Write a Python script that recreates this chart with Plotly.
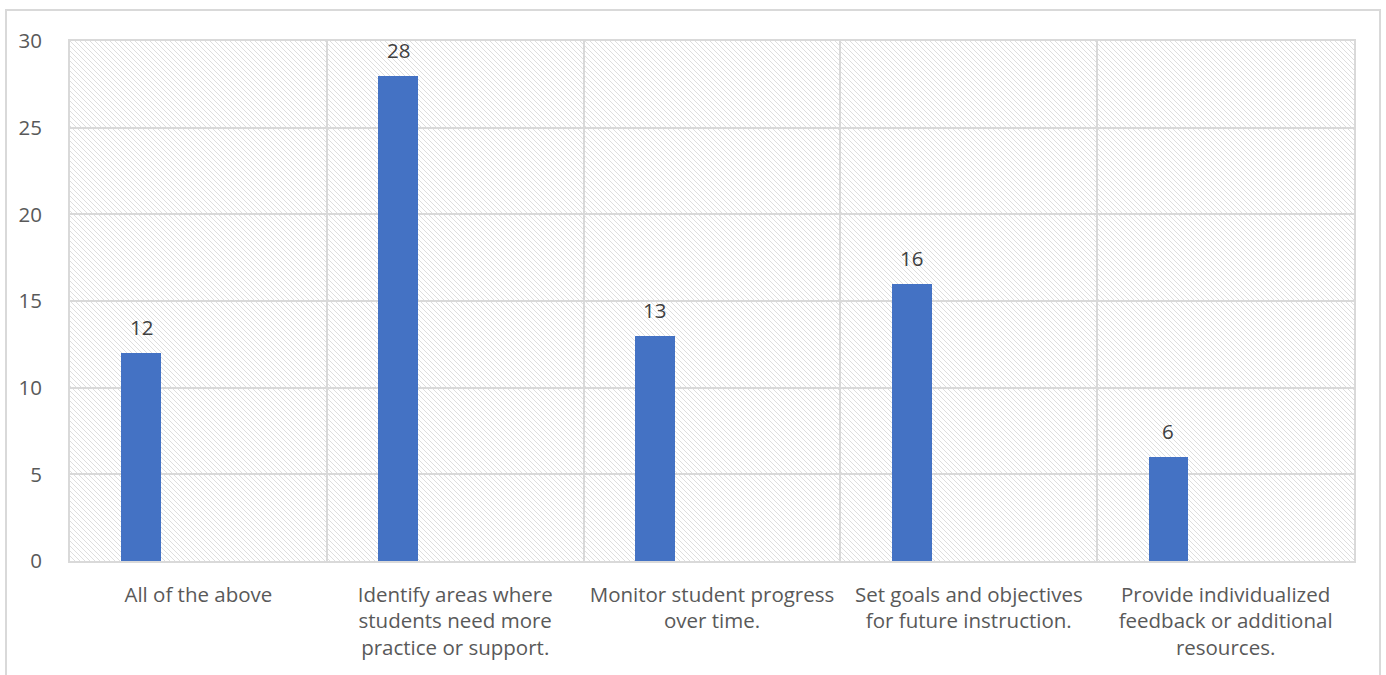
import base64
import numpy as np
import plotly.graph_objects as go

# Survey responses: how assessment data is used
categories = [
    "All of the above",
    "Identify areas where<br>students need more<br>practice or support.",
    "Monitor student progress<br>over time.",
    "Set goals and objectives<br>for future instruction.",
    "Provide individualized<br>feedback or additional<br>resources.",
]
counts = [12, 28, 13, 16, 6]
y_ticks = [0, 5, 10, 15, 20, 25, 30]

BAR_COLOR = "#4472C4"
GRID = "#d9d9d9"
TICK_COLOR = "#595959"
LABEL_COLOR = "#404040"
FONT = "Open Sans"
FSIZE = 20.5

pos = np.arange(len(categories))
bar_offset = -0.30   # bars sit in the left part of each category slot
bar_width = 0.155
x_lo, x_hi = -0.5, len(categories) - 0.5
y_lo, y_hi = y_ticks[0], y_ticks[-1]

L, R, T, B = 70, 32, 41, 114
W, H = 1386, 675
pw, ph = W - L - R, H - T - B

# diagonal hatch used as the plot-area background
hatch_svg = (
    f'<svg xmlns="http://www.w3.org/2000/svg" width="{pw}" height="{ph}">'
    '<defs><pattern id="h" width="5" height="5" patternUnits="userSpaceOnUse">'
    '<path d="M-1,-1 L6,6 M4,-1 L6,1 M-1,4 L1,6" stroke="#dedede" stroke-width="1"/>'
    '</pattern></defs>'
    '<rect width="100%" height="100%" fill="url(#h)"/></svg>'
)
hatch_uri = "data:image/svg+xml;base64," + base64.b64encode(hatch_svg.encode()).decode()

fig = go.Figure()

fig.add_trace(go.Bar(
    x=pos, y=counts,
    offset=bar_offset, width=bar_width,
    marker=dict(color=BAR_COLOR, line=dict(width=0)),
    showlegend=False,
))

# value labels above each bar
for xi, v in zip(pos, counts):
    fig.add_annotation(
        x=xi + bar_offset + bar_width / 2, y=v,
        text=str(v), showarrow=False,
        yanchor="bottom", yshift=10,
        font=dict(family=FONT, size=FSIZE, color=LABEL_COLOR),
    )

fig.add_layout_image(
    source=hatch_uri, xref="paper", yref="paper",
    x=0, y=1, sizex=1, sizey=1, xanchor="left", yanchor="top",
    sizing="stretch", layer="below",
)

# outer chart frame
fig.add_shape(
    type="rect", xref="paper", yref="paper",
    x0=(6 - L) / pw, x1=(1380 - L) / pw,
    y0=-(B + 40) / ph, y1=(ph + T - 10) / ph,
    line=dict(color=GRID, width=2), fillcolor="rgba(0,0,0,0)", layer="below",
)

fig.update_layout(
    width=W, height=H,
    margin=dict(l=L, r=R, t=T, b=B),
    paper_bgcolor="white", plot_bgcolor="white",
    font=dict(family=FONT, size=FSIZE, color=TICK_COLOR),
    bargap=0,
)
fig.update_xaxes(
    range=[x_lo, x_hi],
    tickmode="array", tickvals=pos, ticktext=categories,
    showgrid=False, zeroline=False,
    ticks="", ticklen=0,
    tickfont=dict(family=FONT, size=FSIZE, color=TICK_COLOR),
    ticklabelstandoff=14,
    minor=dict(tickmode="linear", tick0=0.5, dtick=1, showgrid=True,
               gridcolor=GRID, gridwidth=2, ticks=""),
    showline=True, linecolor=GRID, linewidth=2, mirror=True,
)
fig.update_yaxes(
    range=[y_lo, y_hi],
    tickmode="array", tickvals=y_ticks,
    showgrid=True, gridcolor=GRID, gridwidth=2,
    zeroline=False, ticks="", ticklen=0,
    tickfont=dict(family=FONT, size=FSIZE, color=TICK_COLOR),
    showline=True, linecolor=GRID, linewidth=2, mirror=True,
    ticklabelstandoff=22,
)

fig.write_html("out.html")
